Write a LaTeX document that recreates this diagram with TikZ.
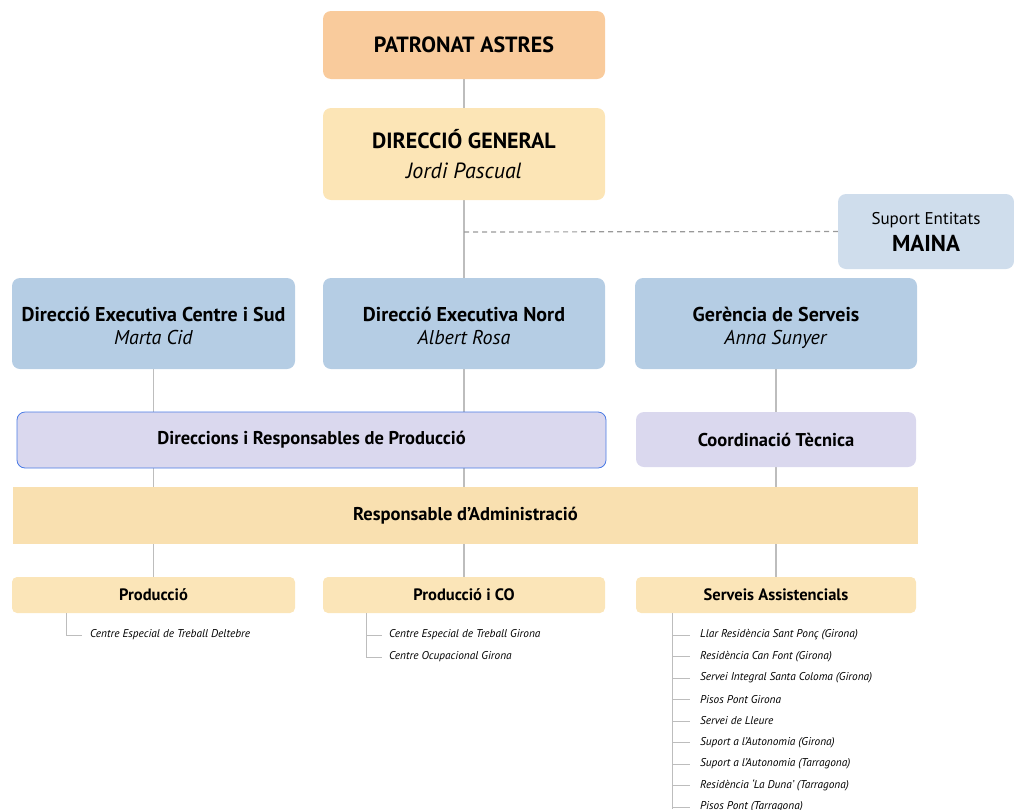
\documentclass[tikz,border=0pt]{standalone}
\usepackage{fontspec}
\setmainfont{PT Sans}
\usetikzlibrary{backgrounds}
\definecolor{patcol}{HTML}{F9CB9C}
\definecolor{gencol}{HTML}{FCE5B6}
\definecolor{execol}{HTML}{B5CDE4}
\definecolor{maicol}{HTML}{CFDDEC}
\definecolor{lavcol}{HTML}{DAD8EE}
\definecolor{edgecol}{HTML}{4B7BE5}
\definecolor{admcol}{HTML}{F9E0B0}
\definecolor{prodcol}{HTML}{FBE5B8}
\definecolor{linecol}{HTML}{BDBDBD}
\begin{document}
\begin{tikzpicture}[x=1pt,y=-1pt,
    box/.style={rounded corners=8pt,inner sep=0pt,align=center},
    exec/.style={box,fill=execol,minimum width=282,minimum height=91,font=\fontsize{20}{23}\selectfont},
    unit/.style={box,rounded corners=5pt,fill=prodcol,minimum width=282,minimum height=36,font=\fontsize{16.5}{19}\selectfont\bfseries},
    conn/.style={draw=linecol,line width=1.2pt},
    item/.style={anchor=west,inner sep=0pt,font=\fontsize{11.3}{13}\selectfont\itshape}]
  \useasboundingbox (0,0) rectangle (1014,809);
  % top
  \node[box,fill=patcol,minimum width=282,minimum height=68,font=\fontsize{22}{26}\selectfont\bfseries] (pat) at (464,45) {PATRONAT ASTRES};
  \node[box,fill=gencol,minimum width=282,minimum height=92,font=\fontsize{22}{30}\selectfont] (dg) at (464,154) {\textbf{DIRECCIÓ GENERAL}\\\textit{Jordi Pascual}};
  \node[box,fill=maicol,minimum width=176,minimum height=75,font=\fontsize{17}{27}\selectfont] (maina) at (926,231.5) {Suport Entitats\\{\fontsize{23}{27}\selectfont\bfseries MAINA}};
  \coordinate (jn) at (464,232);
  % executives
  \node[exec,minimum width=283] (dcs) at (153.5,323.5) {\rule{0pt}{24pt}\textbf{Direcció Executiva Centre i Sud}\\\textit{Marta Cid}\rule[-6pt]{0pt}{6pt}};
  \node[exec] (dn) at (464,323.5) {\rule{0pt}{24pt}\textbf{Direcció Executiva Nord}\\\textit{Albert Rosa}\rule[-6pt]{0pt}{6pt}};
  \node[exec] (gs) at (776,323.5) {\rule{0pt}{24pt}\textbf{Gerència de Serveis}\\\textit{Anna Sunyer}\rule[-6pt]{0pt}{6pt}};
  % middle
  \node[box,fill=lavcol,draw=edgecol,line width=0.8pt,minimum width=589,minimum height=56,font=\fontsize{18.5}{22}\selectfont\bfseries] (dir) at (311.5,440) {Direccions i Responsables de Producció};
  \node[box,fill=lavcol,minimum width=280,minimum height=55,font=\fontsize{18.5}{22}\selectfont\bfseries] (ct) at (776,439.5) {Coordinació Tècnica};
  \node[inner sep=0pt,fill=admcol,minimum width=905,minimum height=57,font=\fontsize{18.5}{22}\selectfont\bfseries] (adm) at (465.5,515.5) {Responsable d’Administració};
  % bottom
  \node[unit,minimum width=283] (prod) at (153.5,595) {Producció};
  \node[unit] (pco) at (464,595) {Producció i CO};
  \node[unit,minimum width=280] (sa) at (776,595) {Serveis Assistencials};
  % connectors
  \begin{scope}[on background layer]
    \draw[conn] (pat) -- (dg);
    \draw[conn] (dg) -- (dn);
    \draw[conn] (dcs) -- (prod);
    \draw[conn] (dn) -- (pco);
    \draw[conn] (gs) -- (sa);
  \end{scope}
  \draw[draw=gray!80,line width=1.2pt,dash pattern=on 5pt off 4pt] (jn) -- (maina.west);
  % lists
  \node[item] (p1) at (90,635) {Centre Especial de Treball Deltebre};
  \draw[conn,line width=1pt] (prod.south -| 66,0) |- ([xshift=-8pt]p1.west);
  \node[item] (c1) at (389,635) {Centre Especial de Treball Girona};
  \node[item] (c2) at (389,657) {Centre Ocupacional Girona};
  \draw[conn,line width=1pt] (pco.south -| 366,0) |- ([xshift=-7pt]c2.west);
  \draw[conn,line width=1pt] (366,635) -- ([xshift=-7pt]c1.west);
  \coordinate (send) at (672,809);
  \draw[conn,line width=1pt] (sa.south -| send) -- (send);
  \foreach \t [count=\i] in {Llar Residència Sant Ponç (Girona), Residència Can Font (Girona),
      Servei Integral Santa Coloma (Girona), Pisos Pont Girona, Servei de Lleure,
      Suport a l’Autonomia (Girona), Suport a l’Autonomia (Tarragona),
      Residència ‘La Duna’ (Tarragona), Pisos Pont (Tarragona)} {
    \node[item] (s\i) at (700,635+21.5*\i-21.5) {\t};
    \draw[conn,line width=1pt] (s\i.west -| send) -- ([xshift=-10pt]s\i.west);
  }
\end{tikzpicture}
\end{document}
